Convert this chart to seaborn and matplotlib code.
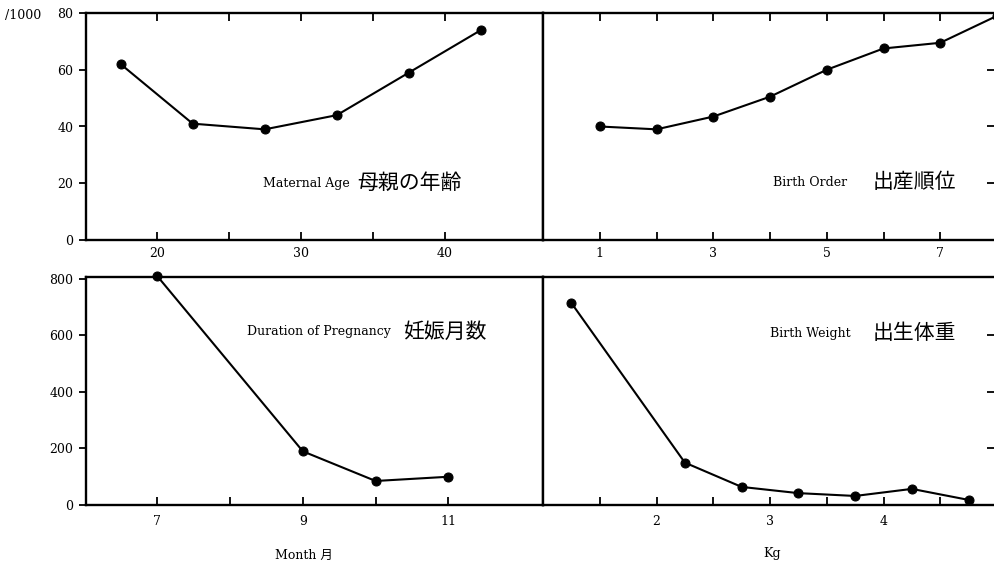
import matplotlib
matplotlib.use("Agg")
import matplotlib.pyplot as plt
import seaborn as sns
import pandas as pd

#%% Data (rate per 1000)

age = [17.5, 22.5, 27.5, 32.5, 37.5, 42.5]
age_rate = [62, 41, 39, 44, 59, 74]

order = [1, 2, 3, 4, 5, 6, 7, 8]
order_rate = [40, 39, 43.5, 50.5, 60, 67.5, 69.5, 79]

month = [7, 9, 10, 11]
month_rate = [810, 190, 85, 100]

weight = [1.25, 2.25, 2.75, 3.25, 3.75, 4.25, 4.75]
weight_rate = [715, 150, 64, 42, 32, 57, 18]

#%% Style

sns.set_theme(style="white")
plt.rcParams['font.family'] = ['DejaVu Serif', 'Noto Sans CJK JP']
plt.rcParams['axes.linewidth'] = 1.7
plt.rcParams['axes.edgecolor'] = 'black'
plt.rcParams['text.color'] = 'black'
plt.rcParams['xtick.color'] = 'black'
plt.rcParams['ytick.color'] = 'black'
plt.rcParams['xtick.labelcolor'] = 'black'
plt.rcParams['ytick.labelcolor'] = 'black'

W, H = 994, 566
fig = plt.figure(figsize=(W / 100, H / 100), dpi=100)
fig.patch.set_facecolor('white')


def px_axes(x0, y0, x1, y1):
    return fig.add_axes([x0 / W, 1 - y1 / H, (x1 - x0) / W, (y1 - y0) / H])


def draw(ax, x, y):
    df = pd.DataFrame({"x": x, "y": y})
    sns.lineplot(data=df, x="x", y="y", ax=ax, color="black", lw=1.5,
                 marker="o", markersize=6.5, markeredgecolor="black",
                 clip_on=False)
    ax.set_xlabel("")
    ax.set_ylabel("")
    ax.set_facecolor("white")


ax1 = px_axes(86, 13, 543, 240)
ax2 = px_axes(543, 13, 997, 240)
ax3 = px_axes(86, 277, 543, 505)
ax4 = px_axes(543, 277, 997, 505)

draw(ax1, age, age_rate)
draw(ax2, order, order_rate)
draw(ax3, month, month_rate)
draw(ax4, weight, weight_rate)

#%% Axes limits and ticks

ax1.set_xlim(15.1, 46.8)
ax2.set_xlim(0, 8)
ax3.set_xlim(6.02, 12.3)
ax4.set_xlim(1, 5)
for ax in (ax1, ax2):
    ax.set_ylim(0, 80)
for ax in (ax3, ax4):
    ax.set_ylim(0, 807)

ax1.set_xticks([20, 25, 30, 35, 40], ["20", "", "30", "", "40"])
ax2.set_xticks([1, 2, 3, 4, 5, 6, 7], ["1", "", "3", "", "5", "", "7"])
ax3.set_xticks([7, 8, 9, 10, 11], ["7", "", "9", "", "11"])
ax4.set_xticks([1.5, 2, 2.5, 3, 3.5, 4, 4.5], ["", "2", "", "3", "", "4", ""])

ax1.set_yticks([0, 20, 40, 60, 80])
ax3.set_yticks([0, 200, 400, 600, 800])
ax2.set_yticks([20, 40, 60])
ax4.set_yticks([200, 400, 600])

for ax in (ax1, ax2):
    ax.tick_params(axis="x", direction="in", top=True, bottom=True,
                   length=6, width=1.3, labelsize=9, pad=5)
for ax in (ax3, ax4):
    ax.tick_params(axis="x", direction="in", top=False, bottom=True,
                   length=6, width=1.3, labelsize=9, pad=7)
for ax in (ax1, ax3):
    ax.tick_params(axis="y", direction="out", left=True, length=5,
                   width=1.3, labelsize=9, pad=4)
for ax in (ax2, ax4):
    ax.tick_params(axis="y", direction="in", left=False, right=True,
                   labelleft=False, length=7, width=1.3)

#%% Panel labels

en = dict(fontsize=9, va="center")
jp = dict(fontsize=15, va="center")

fig.text(263 / W, 1 - 183 / H, "Maternal Age", **en)
fig.text(357 / W, 1 - 183 / H, "母親の年齢", **jp)
fig.text(773 / W, 1 - 182 / H, "Birth Order", **en)
fig.text(873 / W, 1 - 182 / H, "出産順位", **jp)
fig.text(247 / W, 1 - 332 / H, "Duration of Pregnancy", **en)
fig.text(403 / W, 1 - 332 / H, "妊娠月数", **jp)
fig.text(770 / W, 1 - 333 / H, "Birth Weight", **en)
fig.text(873 / W, 1 - 333 / H, "出生体重", **jp)

fig.text(304 / W, 1 - 555 / H, "Month 月", fontsize=9, va="center", ha="center")
fig.text(772 / W, 1 - 553 / H, "Kg", fontsize=9, va="center", ha="center")
fig.text(5 / W, 1 - 16 / H, "/1000", fontsize=9, va="center", ha="left")

fig.savefig("out.png", dpi=100, facecolor="white")
